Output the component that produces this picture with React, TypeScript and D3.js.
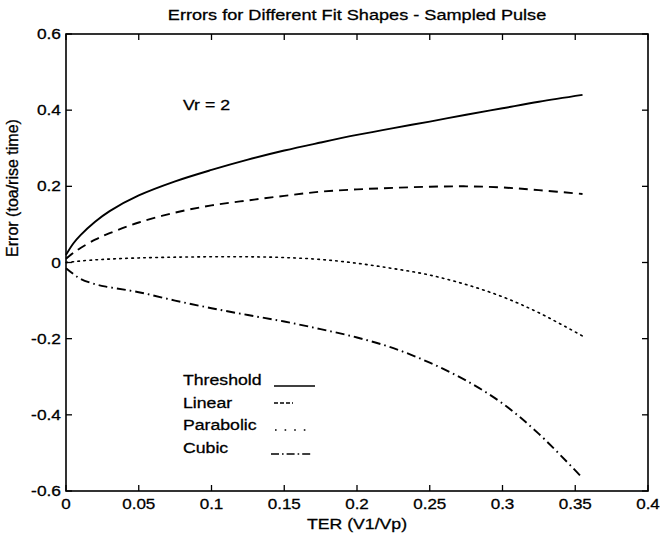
import React from "react";
import * as d3 from "d3";

const TER = [0, 0.005, 0.01, 0.02, 0.03, 0.05, 0.075, 0.1, 0.125, 0.15, 0.175, 0.2, 0.225, 0.25, 0.275, 0.3, 0.325, 0.355];
const threshold = [0.02, 0.05, 0.072, 0.107, 0.135, 0.176, 0.213, 0.243, 0.27, 0.294, 0.315, 0.335, 0.353, 0.37, 0.388, 0.405, 0.422, 0.44];
const linear = [0.01, 0.025, 0.038, 0.06, 0.077, 0.105, 0.131, 0.15, 0.163, 0.175, 0.186, 0.192, 0.196, 0.199, 0.2, 0.197, 0.19, 0.18];
const parabolic = [0, 0.002, 0.004, 0.007, 0.009, 0.012, 0.014, 0.015, 0.015, 0.013, 0.008, -0.002, -0.016, -0.033, -0.058, -0.09, -0.132, -0.193];
const cubic = [-0.015, -0.03, -0.043, -0.057, -0.065, -0.078, -0.1, -0.12, -0.138, -0.155, -0.175, -0.197, -0.225, -0.263, -0.31, -0.37, -0.45, -0.566];

const xTicks = [0, 0.05, 0.1, 0.15, 0.2, 0.25, 0.3, 0.35, 0.4];
const yTicks = [-0.6, -0.4, -0.2, 0, 0.2, 0.4, 0.6];
const seriesNames = ["Threshold", "Linear", "Parabolic", "Cubic"];
const dashes = ["", "9,6", "1.6,4.4", "9,4,1.6,4"];
const legendDashes = ["", "4,2", "1.6,8", "8,3,1.6,3"];
const title = "Errors for Different Fit Shapes - Sampled Pulse";
const xLabel = "TER (V1/Vp)";
const yLabel = "Error (toa/rise time)";
const note = "Vr = 2";

const W = 660, H = 540;
const L = 66, R = 648, T = 34, B = 491;
const FONT = "'Liberation Sans', Arial, Helvetica, sans-serif";

function SText({ x, y, sx = 1.14, size = 15.5, anchor = "start", children }: any) {
  return (
    <text
      transform={`translate(${x},${y}) scale(${sx},1)`}
      fontSize={size}
      fontFamily={FONT}
      textAnchor={anchor}
      fill="#000"
      stroke="#000"
      strokeWidth={0.3}
    >
      {children}
    </text>
  );
}

function fmt(v: number) {
  return String(+v.toFixed(2));
}

export default function App() {
  const x = d3.scaleLinear().domain([0, 0.4]).range([L, R]);
  const y = d3.scaleLinear().domain([-0.6, 0.6]).range([B, T]);
  const all = [threshold, linear, parabolic, cubic];
  const line = d3
    .line<[number, number]>()
    .x((d) => x(d[0]))
    .y((d) => y(d[1]))
    .curve(d3.curveCatmullRom.alpha(0.5));

  const legY = [385, 408, 430, 453];
  const legLineY = [386, 403, 430, 454];
  const legX0 = [274, 274, 275, 271];
  const legX1 = [315, 293, 308, 313];

  return (
    <svg width={W} height={H} style={{ position: "absolute", left: 0, top: 0, background: "#fff" }}>
      <rect width={W} height={H} fill="#fff" />
      <SText x={357} y={20} anchor="middle" sx={1.17}>{title}</SText>

      {all.map((s, i) => (
        <path
          key={i}
          d={line(TER.map((t, j) => [t, s[j]] as [number, number])) || ""}
          fill="none"
          stroke="#000"
          strokeWidth={i === 2 ? 1.6 : 1.9}
          strokeDasharray={dashes[i]}
          strokeLinecap={i === 2 ? "round" : "butt"}
        />
      ))}

      <rect x={L} y={T} width={R - L} height={B - T} fill="none" stroke="#000" strokeWidth={1.6} />
      {xTicks.map((t) => (
        <g key={"x" + t}>
          <line x1={x(t)} x2={x(t)} y1={B} y2={B - 6} stroke="#000" strokeWidth={1.3} />
          <line x1={x(t)} x2={x(t)} y1={T} y2={T + 6} stroke="#000" strokeWidth={1.3} />
          <SText x={x(t)} y={509} anchor="middle" sx={1.1}>{fmt(t)}</SText>
        </g>
      ))}
      {yTicks.map((v) => (
        <g key={"y" + v}>
          <line x1={L} x2={L + 6} y1={y(v)} y2={y(v)} stroke="#000" strokeWidth={1.3} />
          <line x1={R} x2={R - 6} y1={y(v)} y2={y(v)} stroke="#000" strokeWidth={1.3} />
          <SText x={61} y={y(v) + 5} anchor="end" sx={1.12}>{fmt(v)}</SText>
        </g>
      ))}

      <SText x={357} y={529} anchor="middle">{xLabel}</SText>
      <text
        transform={`translate(18,188) rotate(-90)`}
        fontSize={16}
        fontFamily={FONT}
        textAnchor="middle"
        fill="#000"
        stroke="#000"
        strokeWidth={0.3}
      >
        {yLabel}
      </text>

      <SText x={183} y={110}>{note}</SText>

      {seriesNames.map((n, i) => (
        <g key={n}>
          <SText x={183} y={legY[i]}>{n}</SText>
          <line
            x1={legX0[i]}
            x2={legX1[i]}
            y1={legLineY[i]}
            y2={legLineY[i]}
            stroke="#000"
            strokeWidth={1.3}
            strokeDasharray={legendDashes[i]}
          />
        </g>
      ))}
    </svg>
  );
}
